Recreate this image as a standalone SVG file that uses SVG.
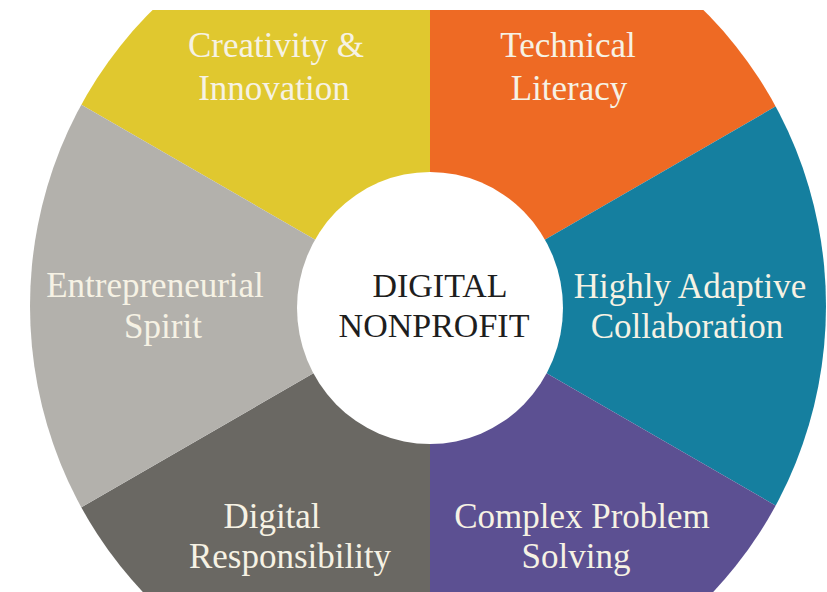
<svg xmlns="http://www.w3.org/2000/svg" width="827" height="592" viewBox="0 0 827 592">
  <defs>
    <clipPath id="wheelClip">
      <ellipse cx="428" cy="306" rx="398" ry="410"/>
    </clipPath>
    <style>
      .lbl { font-family: "Liberation Serif", "Times New Roman", serif; font-size: 35px; fill: #F6F2E4; text-anchor: middle; }
      .ctr { font-family: "Liberation Serif", "Times New Roman", serif; font-size: 34px; fill: #1E1E1E; text-anchor: middle; }
    </style>
  </defs>
  <rect x="0" y="0" width="827" height="592" fill="#FFFFFF"/>
  <g id="wheel" clip-path="url(#wheelClip)">
    <g id="creativity-innovation">
      <polygon points="430,306 430,-400 -436,-400 -436,-194" fill="#E0C82F"/>
    </g>
    <g id="technical-literacy">
      <polygon points="430,306 430,-400 1296,-400 1296,-194" fill="#EE6A24"/>
    </g>
    <g id="highly-adaptive-collaboration">
      <polygon points="430,306 1296,-194 1296,806" fill="#157F9F"/>
    </g>
    <g id="complex-problem-solving">
      <polygon points="430,306 1296,806 1296,1000 430,1000" fill="#5C5092"/>
    </g>
    <g id="digital-responsibility">
      <polygon points="430,306 430,1000 -436,1000 -436,806" fill="#6A6863"/>
    </g>
    <g id="entrepreneurial-spirit">
      <polygon points="430,306 -436,806 -436,-194" fill="#B3B1AC"/>
    </g>
  </g>
  <rect x="0" y="0" width="827" height="10" fill="#FFFFFF"/>
  <g id="labels">
    <text class="lbl" x="276" y="57">Creativity &amp;</text>
    <text class="lbl" x="274" y="100">Innovation</text>
    <text class="lbl" x="568" y="57">Technical</text>
    <text class="lbl" x="569" y="100">Literacy</text>
    <text class="lbl" x="155" y="297">Entrepreneurial</text>
    <text class="lbl" x="163" y="338">Spirit</text>
    <text class="lbl" x="690" y="298">Highly Adaptive</text>
    <text class="lbl" x="687" y="338">Collaboration</text>
    <text class="lbl" x="272" y="528">Digital</text>
    <text class="lbl" x="290" y="568">Responsibility</text>
    <text class="lbl" x="582" y="528">Complex Problem</text>
    <text class="lbl" x="576" y="568">Solving</text>
  </g>
  <g id="digital-nonprofit">
    <ellipse cx="430" cy="308" rx="133" ry="136" fill="#FFFFFF"/>
    <text class="ctr" x="440" y="297">DIGITAL</text>
    <text class="ctr" x="434" y="337">NONPROFIT</text>
  </g>
</svg>
